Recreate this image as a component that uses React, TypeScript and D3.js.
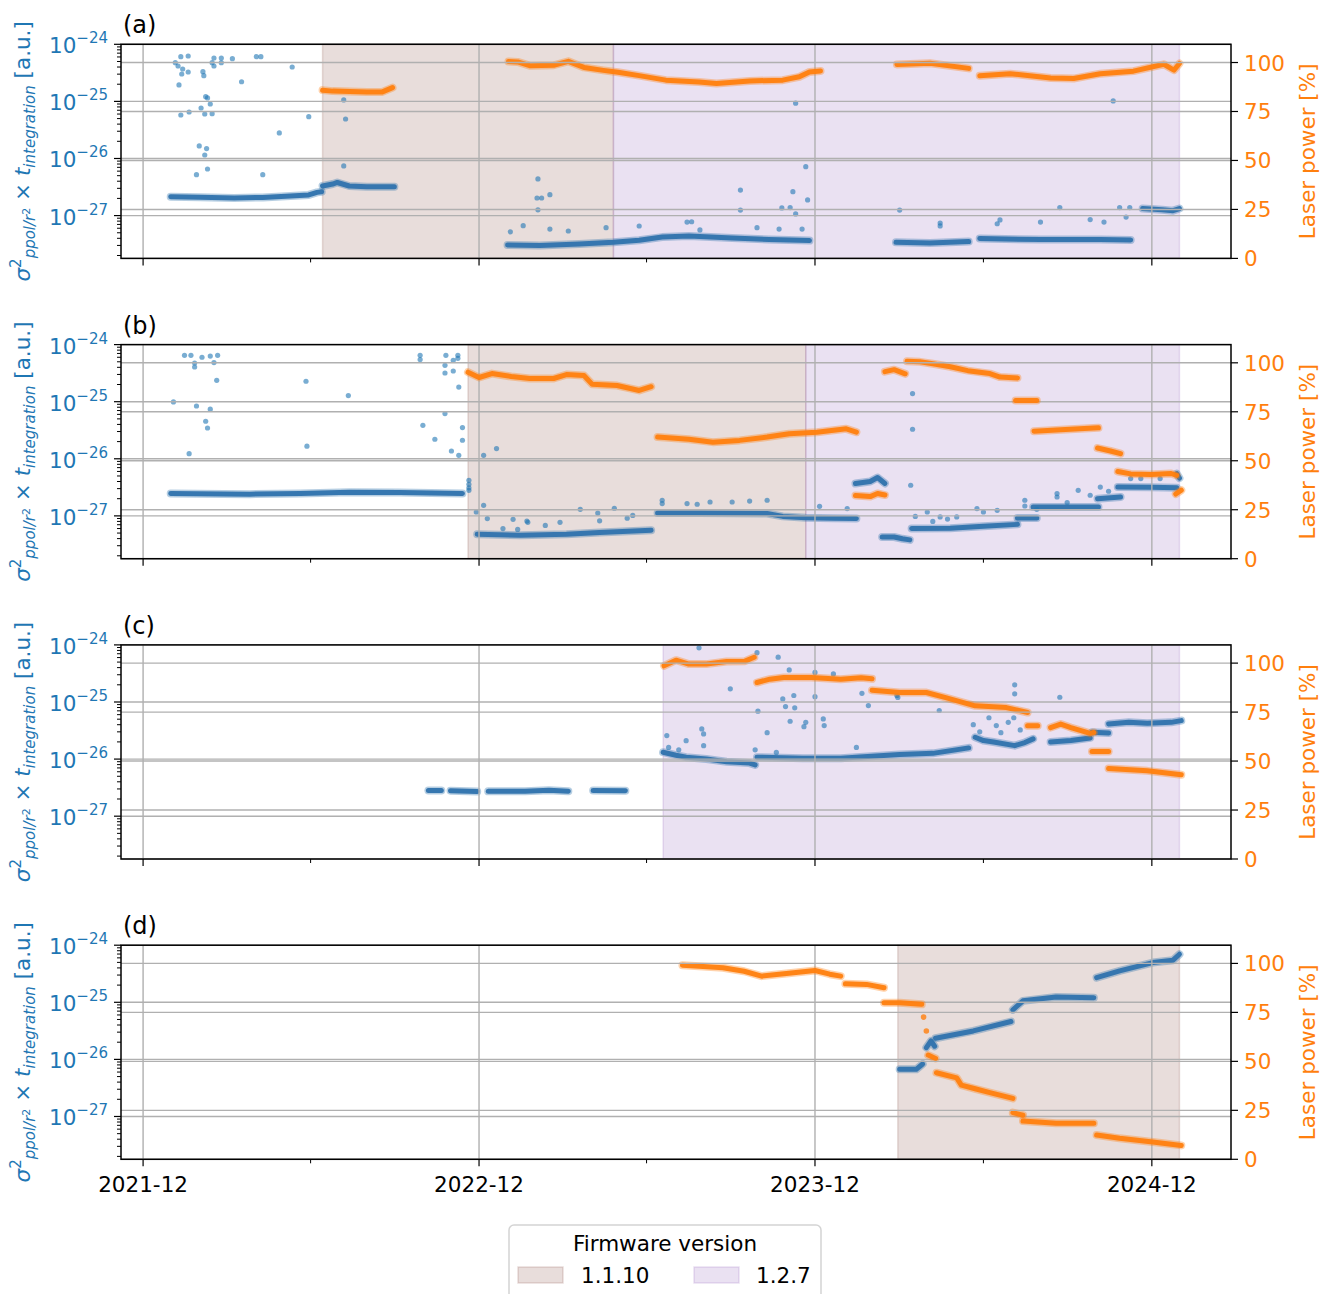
import React from "react";
import * as d3 from "d3";

type Pt = [string, number];
type Span = { version: string; from: string; to: string };

const panelLabels = ["(a)", "(b)", "(c)", "(d)"];
const versions = ["1.1.10", "1.2.7"];
const versionColors = ["#8c564b", "#9467bd"];
const leftTicks = [1e-24, 1e-25, 1e-26, 1e-27];
const leftTickExp = ["\u221224", "\u221225", "\u221226", "\u221227"];
const rightTicks = [0, 25, 50, 75, 100];
const majorDates = ["2021-12-01", "2022-12-01", "2023-12-01", "2024-12-01"];
const minorDates = ["2022-06-01", "2023-06-01", "2024-06-01"];

// ---------- firmware spans ----------
const spansA: Span[] = [
  { version: "1.1.10", from: "2022-06-14", to: "2023-04-26" },
  { version: "1.2.7", from: "2023-04-26", to: "2024-12-31" },
];
const spansB: Span[] = [
  { version: "1.1.10", from: "2022-11-19", to: "2023-11-21" },
  { version: "1.2.7", from: "2023-11-21", to: "2024-12-31" },
];
const spansC: Span[] = [{ version: "1.2.7", from: "2023-06-19", to: "2024-12-31" }];
const spansD: Span[] = [{ version: "1.1.10", from: "2024-02-29", to: "2024-12-31" }];

// ---------- panel (a) ----------
const blueBandsA: Pt[][] = [
  [["2021-12-31", 2.14e-27], ["2022-02-01", 2.1e-27], ["2022-03-10", 2.04e-27], ["2022-04-10", 2.08e-27], ["2022-05-10", 2.2e-27], ["2022-05-30", 2.3e-27], ["2022-06-08", 2.55e-27], ["2022-06-13", 2.62e-27]],
  [["2022-06-14", 3.3e-27], ["2022-06-25", 3.57e-27], ["2022-06-30", 3.8e-27], ["2022-07-13", 3.3e-27], ["2022-08-01", 3.2e-27], ["2022-08-31", 3.2e-27]],
  [["2023-01-01", 3.05e-28], ["2023-02-05", 3.0e-28], ["2023-03-20", 3.17e-28], ["2023-04-26", 3.4e-28], ["2023-05-24", 3.7e-28], ["2023-06-18", 4.2e-28], ["2023-07-17", 4.4e-28], ["2023-09-02", 4.05e-28], ["2023-10-12", 3.8e-28], ["2023-11-25", 3.65e-28]],
  [["2024-02-27", 3.4e-28], ["2024-04-04", 3.3e-28], ["2024-05-16", 3.5e-28]],
  [["2024-05-28", 3.97e-28], ["2024-08-02", 3.8e-28], ["2024-10-06", 3.8e-28], ["2024-11-08", 3.75e-28]],
  [["2024-11-21", 1.33e-27], ["2024-12-12", 1.27e-27], ["2024-12-24", 1.22e-27], ["2024-12-31", 1.33e-27]],
];
const blueDotsA: Pt[] = [
  ["2022-01-05", 4.76e-25], ["2022-01-08", 4.17e-25], ["2022-01-11", 6.07e-25], ["2022-01-19", 6.24e-25], ["2022-01-13", 3.69e-25],
  ["2022-01-12", 3.02e-25], ["2022-01-09", 1.94e-25], ["2022-01-19", 3.27e-25], ["2022-01-11", 5.78e-26], ["2022-01-20", 6.52e-26],
  ["2022-02-04", 3.31e-25], ["2022-02-05", 2.82e-25], ["2022-02-02", 7.66e-26], ["2022-02-06", 6.01e-26], ["2022-02-14", 6.09e-26],
  ["2022-02-07", 1.21e-25], ["2022-02-09", 1.15e-25], ["2022-02-12", 9.0e-26], ["2022-01-31", 1.66e-26], ["2022-02-08", 1.49e-26],
  ["2022-02-06", 1.15e-26], ["2022-01-28", 5.2e-27], ["2022-02-09", 6.55e-27], ["2022-02-14", 4.76e-25], ["2022-02-16", 5.75e-25],
  ["2022-02-16", 4.17e-25], ["2022-02-24", 5.75e-25], ["2022-02-24", 4.76e-25], ["2022-03-08", 5.6e-25], ["2022-03-18", 2.21e-25],
  ["2022-04-03", 6.07e-25], ["2022-04-08", 6.07e-25], ["2022-04-10", 5.2e-27], ["2022-04-28", 2.8e-26], ["2022-05-12", 4.0e-25],
  ["2022-05-30", 5.4e-26], ["2022-07-07", 1.06e-25], ["2022-07-09", 4.92e-26], ["2022-07-07", 7.4e-27],
  ["2023-02-03", 4.38e-27], ["2023-02-02", 2.03e-27], ["2023-02-07", 2.03e-27], ["2023-02-16", 2.32e-27], ["2023-02-03", 1.26e-27],
  ["2023-09-11", 2.8e-27], ["2023-09-11", 1.25e-27], ["2023-11-07", 2.62e-27], ["2023-11-21", 7.2e-27], ["2023-11-23", 1.88e-27],
  ["2023-11-10", 9.3e-26], ["2023-11-10", 1.07e-27], ["2023-10-26", 1.36e-27], ["2023-11-04", 1.38e-27], ["2024-03-02", 1.25e-27],
  ["2023-01-18", 6.65e-28], ["2023-01-04", 5.2e-28], ["2023-02-16", 5.8e-28], ["2023-03-08", 5.37e-28], ["2023-04-18", 6.14e-28],
  ["2023-05-24", 6.57e-28], ["2023-07-15", 7.7e-28], ["2023-07-20", 7.8e-28], ["2023-07-29", 5.6e-28], ["2023-09-29", 6.14e-28],
  ["2023-10-23", 5.8e-28], ["2023-11-17", 5.8e-28],
  ["2024-08-23", 1.38e-27], ["2024-10-27", 1.38e-27], ["2024-11-07", 1.38e-27], ["2024-10-20", 1.02e-25], ["2024-04-15", 7.4e-28],
  ["2024-04-15", 6.6e-28], ["2024-06-16", 7.2e-28], ["2024-06-19", 8.4e-28], ["2024-08-02", 7.7e-28], ["2024-09-25", 8.5e-28],
  ["2024-10-10", 7.7e-28], ["2024-11-03", 9.4e-28],
];
const orangeBandsA: Pt[][] = [
  [["2022-06-14", 85.9], ["2022-06-25", 85.4], ["2022-08-01", 85.0], ["2022-08-18", 85.0], ["2022-08-29", 87.2]],
  [["2023-01-02", 100.5], ["2023-01-12", 100.3], ["2023-01-25", 98.4], ["2023-02-20", 98.6], ["2023-03-08", 100.6], ["2023-03-25", 97.5], ["2023-04-15", 96], ["2023-05-01", 95], ["2023-05-24", 93.3], ["2023-06-22", 91], ["2023-07-28", 90.1], ["2023-08-16", 89.3], ["2023-09-21", 90.6], ["2023-10-27", 91], ["2023-11-14", 92.7], ["2023-11-25", 95.2], ["2023-12-07", 95.7]],
  [["2024-02-28", 99], ["2024-04-04", 99.6], ["2024-05-16", 97]],
  [["2024-05-28", 93.2], ["2024-06-30", 94.3], ["2024-08-13", 92.1], ["2024-09-07", 91.8], ["2024-10-06", 94.3], ["2024-11-11", 95.6], ["2024-12-14", 99.1], ["2024-12-25", 96.1], ["2024-12-31", 99.5]],
];

// ---------- panel (b) ----------
const blueBandsB: Pt[][] = [
  [["2021-12-31", 2.46e-27], ["2022-03-27", 2.4e-27], ["2022-05-21", 2.46e-27], ["2022-07-13", 2.6e-27], ["2022-09-06", 2.56e-27], ["2022-11-13", 2.46e-27]],
  [["2022-11-29", 4.76e-28], ["2023-01-15", 4.6e-28], ["2023-03-06", 4.76e-28], ["2023-04-11", 5.1e-28], ["2023-06-06", 5.6e-28]],
  [["2023-06-13", 1.12e-27], ["2023-07-28", 1.12e-27], ["2023-10-10", 1.1e-27], ["2023-10-27", 9.8e-28], ["2023-11-21", 9.3e-28], ["2023-12-21", 9.1e-28], ["2024-01-15", 9.0e-28]],
  [["2024-01-14", 3.68e-27], ["2024-01-30", 4.0e-27], ["2024-02-07", 4.7e-27], ["2024-02-15", 3.7e-27]],
  [["2024-02-12", 4.27e-28], ["2024-02-25", 4.27e-28], ["2024-03-05", 3.97e-28], ["2024-03-13", 3.8e-28]],
  [["2024-03-15", 6.0e-28], ["2024-04-26", 6.05e-28], ["2024-06-01", 6.57e-28], ["2024-07-08", 7.1e-28]],
  [["2024-07-08", 9.2e-28], ["2024-07-29", 9.2e-28]],
  [["2024-07-25", 1.43e-27], ["2024-10-04", 1.43e-27]],
  [["2024-10-03", 2.0e-27], ["2024-10-28", 2.15e-27]],
  [["2024-10-25", 3.2e-27], ["2024-11-30", 3.16e-27], ["2024-12-28", 3.1e-27]],
  [["2024-12-28", 5.5e-27], ["2024-12-31", 4.6e-27]],
];
const blueDotsB: Pt[] = [
  ["2022-01-03", 9.9e-26], ["2022-01-15", 6.5e-25], ["2022-01-22", 6.5e-25], ["2022-01-26", 4.76e-25], ["2022-01-26", 4.05e-25],
  ["2022-02-03", 6.0e-25], ["2022-02-12", 6.3e-25], ["2022-02-20", 6.5e-25], ["2022-02-16", 4.84e-25], ["2022-02-19", 2.37e-25],
  ["2022-01-28", 8.4e-26], ["2022-02-12", 7.4e-26], ["2022-02-07", 4.54e-26], ["2022-02-09", 3.46e-26], ["2022-01-20", 1.23e-26],
  ["2022-05-27", 2.28e-25], ["2022-05-28", 1.66e-26], ["2022-07-12", 1.28e-25], ["2022-09-28", 6.5e-25], ["2022-09-28", 5.46e-25],
  ["2022-10-26", 6.5e-25], ["2022-10-25", 4.34e-25], ["2022-10-25", 3.18e-25], ["2022-11-03", 5.3e-25], ["2022-11-03", 3.45e-25],
  ["2022-11-08", 6.5e-25], ["2022-11-08", 5.75e-25], ["2022-11-09", 1.8e-25], ["2022-10-25", 6.2e-26], ["2022-10-01", 3.86e-26],
  ["2022-10-14", 2.2e-26], ["2022-11-01", 1.37e-26], ["2022-11-09", 1.15e-26], ["2022-11-13", 3.52e-26], ["2022-11-13", 2.11e-26],
  ["2022-12-06", 1.15e-26], ["2022-12-20", 1.51e-26], ["2022-12-06", 1.53e-27], ["2022-11-28", 1.17e-27], ["2022-12-10", 8.97e-28],
  ["2022-11-20", 4.2e-27], ["2022-11-20", 3.57e-27], ["2022-11-20", 3.1e-27], ["2022-11-20", 2.8e-27],
  ["2023-01-07", 8.7e-28], ["2022-12-27", 6.0e-28], ["2023-01-12", 5.8e-28], ["2023-01-22", 8.1e-28], ["2023-01-23", 7.7e-28],
  ["2023-03-21", 1.3e-27], ["2023-04-09", 1.12e-27], ["2023-04-27", 1.36e-27], ["2023-04-11", 8.2e-28], ["2023-05-11", 9.1e-28],
  ["2023-05-17", 1.02e-27], ["2023-02-27", 7.7e-28], ["2023-02-11", 6.8e-28],
  ["2023-06-18", 1.88e-27], ["2023-06-18", 1.64e-27], ["2023-07-15", 1.64e-27], ["2023-07-26", 1.6e-27], ["2023-08-09", 1.75e-27],
  ["2023-09-02", 1.75e-27], ["2023-09-21", 1.82e-27], ["2023-10-10", 1.88e-27], ["2023-12-06", 1.47e-27], ["2024-01-05", 1.34e-27],
  ["2024-03-16", 1.39e-25], ["2024-03-16", 3.29e-26], ["2024-03-14", 3.44e-27], ["2024-03-19", 9.8e-28], ["2024-04-01", 1.17e-27],
  ["2024-04-07", 8.0e-28], ["2024-04-15", 9.57e-28], ["2024-04-23", 8.8e-28], ["2024-05-03", 9.57e-28], ["2024-05-25", 1.34e-27],
  ["2024-06-01", 1.17e-27], ["2024-06-16", 1.25e-27], ["2024-07-16", 1.88e-27], ["2024-07-16", 1.49e-27], ["2024-07-29", 1.3e-27],
  ["2024-08-20", 2.46e-27], ["2024-08-20", 2.14e-27], ["2024-08-31", 1.71e-27], ["2024-09-12", 2.8e-27], ["2024-09-25", 2.3e-27],
  ["2024-10-06", 3.2e-27], ["2024-10-15", 2.7e-27], ["2024-11-08", 4.5e-27], ["2024-11-19", 4.5e-27], ["2024-12-10", 4.5e-27],
];
const orangeBandsB: Pt[][] = [
  [["2022-11-19", 95.2], ["2022-12-01", 92.5], ["2022-12-15", 94.5], ["2023-01-05", 93], ["2023-01-25", 92], ["2023-02-20", 92], ["2023-03-06", 94], ["2023-03-25", 93.5], ["2023-04-03", 89], ["2023-04-30", 88.4], ["2023-05-24", 85.9], ["2023-06-06", 87.8]],
  [["2023-06-13", 62.1], ["2023-07-17", 61], ["2023-08-12", 59.5], ["2023-09-10", 60.4], ["2023-10-10", 62.1], ["2023-11-03", 63.8], ["2023-12-03", 64.6], ["2024-01-04", 66.3], ["2024-01-15", 64.6]],
  [["2024-01-14", 32.3], ["2024-01-30", 31.7], ["2024-02-07", 33.3], ["2024-02-15", 32.5]],
  [["2024-02-15", 95.5], ["2024-02-25", 96.5], ["2024-03-08", 94.4]],
  [["2024-03-10", 100.8], ["2024-03-24", 100.5], ["2024-04-07", 99.5], ["2024-04-26", 98], ["2024-05-15", 96], ["2024-06-08", 94.5], ["2024-06-19", 92.7], ["2024-07-08", 92.3]],
  [["2024-07-06", 80.8], ["2024-07-29", 80.8]],
  [["2024-07-26", 65.1], ["2024-08-24", 65.8], ["2024-10-04", 66.8]],
  [["2024-10-03", 56.5], ["2024-10-17", 55], ["2024-10-28", 53.6]],
  [["2024-10-25", 44.5], ["2024-11-08", 43.3], ["2024-11-30", 43], ["2024-12-22", 43.5], ["2024-12-28", 42.5]],
  [["2024-12-27", 33], ["2025-01-02", 35]],
];

// ---------- panel (c) ----------
const blueBandsC: Pt[][] = [
  [["2022-10-07", 2.81e-27], ["2022-10-21", 2.81e-27]],
  [["2022-10-31", 2.8e-27], ["2022-11-29", 2.7e-27]],
  [["2022-12-11", 2.72e-27], ["2023-01-20", 2.74e-27], ["2023-02-15", 2.85e-27], ["2023-03-08", 2.74e-27]],
  [["2023-04-04", 2.81e-27], ["2023-05-09", 2.8e-27]],
  [["2023-06-19", 1.32e-26], ["2023-07-03", 1.17e-26], ["2023-07-14", 1.08e-26], ["2023-08-05", 1.0e-26], ["2023-08-27", 9.0e-27], ["2023-09-21", 8.5e-27], ["2023-09-27", 7.9e-27]],
  [["2023-09-29", 1.08e-26], ["2023-11-18", 1.03e-26], ["2023-12-29", 1.03e-26], ["2024-01-23", 1.1e-26], ["2024-03-02", 1.2e-26], ["2024-04-07", 1.26e-26], ["2024-05-02", 1.45e-26], ["2024-05-16", 1.57e-26]],
  [["2024-05-23", 2.41e-26], ["2024-06-01", 2.11e-26], ["2024-06-12", 1.99e-26], ["2024-07-05", 1.72e-26], ["2024-07-16", 1.95e-26], ["2024-07-25", 2.26e-26]],
  [["2024-08-13", 1.99e-26], ["2024-09-04", 2.11e-26], ["2024-09-25", 2.35e-26]],
  [["2024-09-27", 2.95e-26], ["2024-10-15", 2.85e-26]],
  [["2024-10-15", 4.13e-26], ["2024-11-06", 4.4e-26], ["2024-11-26", 4.25e-26], ["2024-12-22", 4.4e-26], ["2025-01-02", 4.72e-26]],
];
const blueDotsC: Pt[] = [
  ["2023-07-28", 8.9e-25], ["2023-09-29", 7.3e-25], ["2023-08-31", 1.7e-25], ["2023-09-30", 6.9e-26], ["2023-10-10", 2.9e-26],
  ["2023-10-22", 6.1e-25], ["2023-10-27", 1.13e-25], ["2023-10-30", 8.3e-26], ["2023-11-03", 3.65e-25], ["2023-11-04", 4.6e-26],
  ["2023-11-08", 1.3e-25], ["2023-11-09", 7.9e-26], ["2023-11-19", 3.7e-26], ["2023-11-21", 4.4e-26], ["2023-12-01", 3.3e-25],
  ["2023-12-01", 1.24e-25], ["2023-12-10", 5.06e-26], ["2023-12-11", 3.86e-26], ["2023-12-21", 3.1e-25], ["2024-01-15", 1.6e-26],
  ["2024-01-21", 1.42e-25], ["2024-01-28", 8.65e-26], ["2024-02-28", 1.3e-25], ["2024-02-29", 1.2e-25], ["2024-04-14", 7.1e-26],
  ["2024-05-21", 4.0e-26], ["2024-06-07", 5.3e-26], ["2024-06-15", 3.86e-26], ["2024-06-28", 4.4e-26], ["2024-07-05", 2.0e-25],
  ["2024-07-05", 1.39e-25], ["2024-07-04", 5.3e-26], ["2024-07-11", 3.24e-26], ["2024-08-23", 1.21e-25], ["2023-07-31", 3.38e-26],
  ["2023-08-02", 2.76e-26], ["2023-07-14", 2.1e-26], ["2023-06-23", 2.58e-26], ["2023-08-02", 1.72e-26], ["2023-09-27", 1.45e-26],
  ["2023-10-20", 1.31e-26], ["2023-06-25", 1.6e-26], ["2023-07-06", 1.45e-26], ["2024-05-28", 3.0e-26], ["2024-06-20", 2.9e-26],
];
const orangeBandsC: Pt[][] = [
  [["2023-06-20", 98.6], ["2023-07-03", 101.5], ["2023-07-17", 99.5], ["2023-08-05", 99.5], ["2023-08-27", 100.8], ["2023-09-16", 101], ["2023-09-26", 103]],
  [["2023-09-29", 90.1], ["2023-10-13", 91.8], ["2023-10-28", 92.7], ["2023-11-27", 92.7], ["2023-12-29", 91.8], ["2024-01-20", 92.5], ["2024-02-01", 92]],
  [["2024-02-01", 86.2], ["2024-03-02", 85], ["2024-03-31", 85], ["2024-04-21", 82.4], ["2024-05-23", 78.2], ["2024-06-26", 77.3], ["2024-07-19", 74.8]],
  [["2024-07-19", 68], ["2024-07-30", 68]],
  [["2024-08-13", 67.1], ["2024-08-24", 68.9], ["2024-09-04", 67.1], ["2024-09-25", 64.1], ["2024-09-29", 64.6]],
  [["2024-09-27", 54.9], ["2024-10-15", 54.9]],
  [["2024-10-15", 46.2], ["2024-11-26", 45], ["2025-01-02", 43]],
];

// ---------- panel (d) ----------
const blueBandsD: Pt[][] = [
  [["2024-03-02", 6.7e-27], ["2024-03-20", 6.7e-27], ["2024-03-27", 8.3e-27]],
  [["2024-03-31", 1.61e-26], ["2024-04-05", 2.1e-26], ["2024-04-09", 1.7e-26]],
  [["2024-04-10", 2.35e-26], ["2024-05-21", 3.15e-26], ["2024-07-01", 4.6e-26]],
  [["2024-07-03", 7.4e-26], ["2024-07-14", 1.06e-25], ["2024-08-19", 1.24e-25], ["2024-09-29", 1.2e-25]],
  [["2024-10-02", 2.7e-25], ["2024-10-27", 3.55e-25], ["2024-12-02", 4.96e-25], ["2024-12-24", 5.46e-25], ["2024-12-31", 6.95e-25]],
];
const orangeBandsD: Pt[][] = [
  [["2023-07-10", 99.1], ["2023-07-28", 98.6], ["2023-08-23", 97.8], ["2023-09-15", 96], ["2023-10-04", 93.5], ["2023-10-31", 94.9], ["2023-12-01", 96.4], ["2023-12-17", 94.5], ["2023-12-29", 93.5]],
  [["2024-01-03", 89.6], ["2024-01-26", 89.3], ["2024-02-14", 87.6]],
  [["2024-02-14", 79.9], ["2024-03-02", 79.9], ["2024-03-26", 79.1]],
  [["2024-04-02", 53.2], ["2024-04-10", 51.5]],
  [["2024-04-11", 44.2], ["2024-05-03", 41.6], ["2024-05-08", 37.9], ["2024-05-23", 36], ["2024-06-08", 34], ["2024-07-03", 31.1]],
  [["2024-07-03", 23.8], ["2024-07-14", 22.5]],
  [["2024-07-14", 19.5], ["2024-08-19", 18.4], ["2024-09-29", 18.4]],
  [["2024-10-02", 12.4], ["2024-10-27", 10.7], ["2024-12-02", 8.8], ["2025-01-02", 7.1]],
];
const orangeDotsD: Pt[] = [["2024-03-28", 72.6], ["2024-03-31", 65.5]];

const panels = [
  { spans: spansA, blueBands: blueBandsA, blueDots: blueDotsA, orangeBands: orangeBandsA, orangeDots: [] as Pt[] },
  { spans: spansB, blueBands: blueBandsB, blueDots: blueDotsB, orangeBands: orangeBandsB, orangeDots: [] as Pt[] },
  { spans: spansC, blueBands: blueBandsC, blueDots: blueDotsC, orangeBands: orangeBandsC, orangeDots: [] as Pt[] },
  { spans: spansD, blueBands: blueBandsD, blueDots: [] as Pt[], orangeBands: orangeBandsD, orangeDots: orangeDotsD },
];

const W = 1320;
const H = 1294;
const left = 121;
const right = 1231;
const panelH = 214.1;
const panelGap = 300.3;
const firstTop = 44.3;
const font = "DejaVu Sans, Verdana, sans-serif";
const fs = 21.5;
const blue = "#1f77b4";
const blueBand = "#2f72ad";
const orange = "#ff7f0e";
const gridColor = "#b0b0b0";

const parse = d3.utcParse("%Y-%m-%d");
const x = d3
  .scaleUtc()
  .domain([parse("2021-11-07")!, parse("2025-02-25")!])
  .range([left, right]);

// dense runs of points: soft outer halo + solid core
const Band: React.FC<{ d: string; color: string }> = ({ d, color }) => (
  <g>
    <path d={d} fill="none" stroke={color} strokeWidth={8} strokeOpacity={0.35}
      strokeLinecap="round" strokeLinejoin="round" />
    <path d={d} fill="none" stroke={color} strokeWidth={5} strokeOpacity={0.95}
      strokeLinecap="round" strokeLinejoin="round" />
  </g>
);

const Panel: React.FC<{ i: number }> = ({ i }) => {
  const p = panels[i];
  const top = firstTop + i * panelGap;
  const bottom = top + panelH;
  const yL = d3.scaleLog().domain([Math.pow(10, -27.75), 1e-24]).range([bottom, top]);
  const yR = d3.scaleLinear().domain([0, 109.3]).range([bottom, top]);
  const lineL = d3.line<Pt>().x((d) => x(parse(d[0])!)).y((d) => yL(d[1]));
  const lineR = d3.line<Pt>().x((d) => x(parse(d[0])!)).y((d) => yR(d[1]));

  const minor: number[] = [];
  for (let e = -28; e <= -25; e++) {
    for (let k = 2; k <= 9; k++) {
      const v = k * Math.pow(10, e);
      if (v >= yL.domain()[0] && v <= 1e-24) minor.push(v);
    }
  }
  const cy = (top + bottom) / 2;

  return (
    <g>
      {p.spans.map((s, k) => {
        const c = versionColors[versions.indexOf(s.version)];
        const x0 = x(parse(s.from)!);
        const x1 = x(parse(s.to)!);
        return (
          <rect key={"s" + k} x={x0} y={top} width={x1 - x0} height={panelH}
            fill={c} fillOpacity={0.2} stroke={c} strokeOpacity={0.2} strokeWidth={1.5} />
        );
      })}

      {p.blueBands.map((b, k) => (
        <Band key={"bb" + k} d={lineL(b)!} color={blueBand} />
      ))}
      {p.blueDots.map((d, k) => (
        <circle key={"bd" + k} cx={x(parse(d[0])!)} cy={yL(d[1])} r={2.6} fill={blue} fillOpacity={0.6} />
      ))}

      {/* left-axis and x grid */}
      {leftTicks.map((t) => (
        <line key={"gl" + t} x1={left} x2={right} y1={yL(t)} y2={yL(t)} stroke={gridColor} strokeWidth={1.4} />
      ))}
      {majorDates.map((d) => (
        <line key={"gx" + d} x1={x(parse(d)!)} x2={x(parse(d)!)} y1={top} y2={bottom} stroke={gridColor} strokeWidth={1.4} />
      ))}

      {p.orangeBands.map((b, k) => (
        <Band key={"ob" + k} d={lineR(b)!} color={orange} />
      ))}
      {p.orangeDots.map((d, k) => (
        <circle key={"od" + k} cx={x(parse(d[0])!)} cy={yR(d[1])} r={2.8} fill={orange} fillOpacity={0.8} />
      ))}

      {/* right-axis grid */}
      {rightTicks.map((t) => (
        <line key={"gr" + t} x1={left} x2={right} y1={yR(t)} y2={yR(t)} stroke={gridColor} strokeWidth={1.4} />
      ))}

      <rect x={left} y={top} width={right - left} height={panelH} fill="none" stroke="#000" strokeWidth={1.5} />

      {/* x ticks */}
      {majorDates.map((d) => (
        <line key={"xt" + d} x1={x(parse(d)!)} x2={x(parse(d)!)} y1={bottom} y2={bottom + 7} stroke="#000" strokeWidth={1.2} />
      ))}
      {minorDates.map((d) => (
        <line key={"xm" + d} x1={x(parse(d)!)} x2={x(parse(d)!)} y1={bottom} y2={bottom + 4} stroke="#000" strokeWidth={1} />
      ))}
      {i === 3 &&
        majorDates.map((d) => (
          <text key={"xl" + d} x={x(parse(d)!)} y={bottom + 33} textAnchor="middle" fontSize={fs} fontFamily={font} fill="#000">
            {d3.utcFormat("%Y-%m")(parse(d)!)}
          </text>
        ))}

      {/* left ticks */}
      {leftTicks.map((t) => (
        <line key={"lt" + t} x1={left - 7} x2={left} y1={yL(t)} y2={yL(t)} stroke="#000" strokeWidth={1.2} />
      ))}
      {minor.map((t) => (
        <line key={"lm" + t} x1={left - 4} x2={left} y1={yL(t)} y2={yL(t)} stroke="#000" strokeWidth={1} />
      ))}
      {leftTicks.map((t, k) => (
        <text key={"ll" + t} x={108} y={yL(t) + 9} textAnchor="end" fontSize={fs} fontFamily={font} fill={blue}>
          <tspan>10</tspan>
          <tspan dy={-10} fontSize={15}>{leftTickExp[k]}</tspan>
        </text>
      ))}

      {/* right ticks */}
      {rightTicks.map((t) => (
        <line key={"rt" + t} x1={right} x2={right + 7} y1={yR(t)} y2={yR(t)} stroke="#000" strokeWidth={1.2} />
      ))}
      {rightTicks.map((t) => (
        <text key={"rl" + t} x={right + 13} y={yR(t) + 8} textAnchor="start" fontSize={fs} fontFamily={font} fill={orange}>
          {t}
        </text>
      ))}

      {/* axis labels */}
      <text transform={`translate(30,${cy}) rotate(-90)`} textAnchor="middle" fontSize={fs} fontFamily={font} fill={blue}>
        <tspan fontStyle="italic">σ</tspan>
        <tspan dy={-9} fontSize={15}>2</tspan>
        <tspan dy={14} fontSize={15} fontStyle="italic">ppol/r</tspan>
        <tspan dy={-5} fontSize={11}>2</tspan>
        <tspan dy={0}>{" \u00d7 "}</tspan>
        <tspan fontStyle="italic">t</tspan>
        <tspan dy={5} fontSize={15} fontStyle="italic">integration</tspan>
        <tspan dy={-5}>{" [a.u.]"}</tspan>
      </text>
      <text transform={`translate(1315,${cy}) rotate(-90)`} textAnchor="middle" fontSize={fs} fontFamily={font} fill={orange}>
        Laser power [%]
      </text>

      <text x={123} y={top - 11} fontSize={24} fontFamily={font} fill="#000">
        {panelLabels[i]}
      </text>
    </g>
  );
};

const Legend: React.FC = () => {
  const lx = 509;
  const ly = 1225;
  const items = [
    { x: 518, tx: 581 },
    { x: 694, tx: 756 },
  ];
  return (
    <g>
      <rect x={lx} y={ly} width={312} height={90} rx={5} fill="#fff" fillOpacity={0.8} stroke="#d4d4d4" strokeWidth={1.5} />
      <text x={lx + 156} y={ly + 26} textAnchor="middle" fontSize={fs} fontFamily={font} fill="#000">
        Firmware version
      </text>
      {versions.map((v, k) => (
        <g key={v}>
          <rect x={items[k].x} y={ly + 42} width={45} height={16} fill={versionColors[k]} fillOpacity={0.2}
            stroke={versionColors[k]} strokeOpacity={0.2} strokeWidth={1.5} />
          <text x={items[k].tx} y={ly + 58} fontSize={fs} fontFamily={font} fill="#000">
            {v}
          </text>
        </g>
      ))}
    </g>
  );
};

export default function App() {
  return (
    <svg width={W} height={H} viewBox={`0 0 ${W} ${H}`}
      style={{ position: "absolute", left: 0, top: 0, background: "#fff" }}>
      <rect x={0} y={0} width={W} height={H} fill="#fff" />
      {panels.map((_, i) => (
        <Panel key={i} i={i} />
      ))}
      <Legend />
    </svg>
  );
}
